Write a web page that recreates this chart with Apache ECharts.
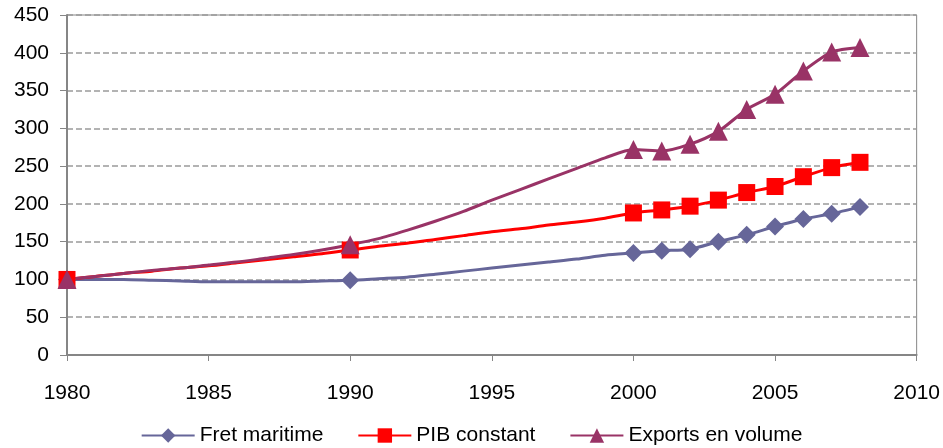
<!DOCTYPE html>
<html>
<head>
<meta charset="utf-8">
<script src="https://cdn.jsdelivr.net/npm/echarts@6/dist/echarts.min.js"></script>
<style>
html, body { margin: 0; padding: 0; background: #fff; }
#chart { width: 943px; height: 448px; }
</style>
</head>
<body>
<div id="chart"></div>
<script>
// années et séries (indices base 100 en 1980)
var years = [1980, 1981, 1982, 1983, 1984, 1985, 1986, 1987, 1988, 1989,
             1990, 1991, 1992, 1993, 1994, 1995, 1996, 1997, 1998, 1999,
             2000, 2001, 2002, 2003, 2004, 2005, 2006, 2007, 2008];
var fret = [100, 100, 100, 99, 98, 97, 97, 97, 97, 98,
            99, 101, 103, 107, 111, 115, 119, 123, 127, 132,
            135, 138, 140, 150, 159, 170, 180, 187, 196];
var pib = [100, 104, 108, 111, 115, 118, 122, 126, 130, 134,
           139, 144, 148, 153, 158, 163, 167, 172, 176, 181,
           188, 192, 197, 205, 215, 223, 236, 248, 255];
var exports = [100, 104, 108, 112, 115, 119, 123, 128, 133, 139,
               146, 154, 165, 177, 190, 205, 219, 233, 247, 261,
               272, 270, 279, 296, 325, 345, 376, 401, 407];
// années avec marqueur
var markedYears = [1980, 1990, 2000, 2001, 2002, 2003, 2004, 2005, 2006, 2007, 2008];
var xTicks = [1980, 2010, 5];
var yTicks = [0, 450, 50];

var myChart = echarts.init(document.getElementById('chart'));

function buildData(values) {
    return years.map(function (y, i) {
        var item = { value: [y, values[i]] };
        if (markedYears.indexOf(y) < 0) item.symbol = 'none';
        return item;
    });
}

var font = 'Liberation Sans, Arial, sans-serif';
var axisGray = '#868686';

function lineSeries(name, values, color, symbol, size) {
    return {
        name: name,
        type: 'line',
        data: buildData(values),
        smooth: 0.25,
        symbol: symbol,
        symbolSize: size,
        showAllSymbol: true,
        lineStyle: { color: color, width: 3 },
        itemStyle: { color: color },
        emphasis: { disabled: true }
    };
}

var option = {
    animation: false,
    grid: {
        left: 67, right: 24, top: 15, bottom: 93,
        show: true, borderColor: axisGray, borderWidth: 1
    },
    legend: {
        top: 420,
        left: 'center',
        itemWidth: 53,
        itemHeight: 18,
        itemGap: 34,
        textStyle: { fontFamily: font, fontSize: 21, color: '#000' },
        data: ['Fret maritime', 'PIB constant', 'Exports en volume']
    },
    xAxis: {
        type: 'value',
        min: xTicks[0], max: xTicks[1], interval: xTicks[2],
        axisLine: { lineStyle: { color: axisGray, width: 2 } },
        axisTick: { show: true, length: 6, lineStyle: { color: axisGray } },
        splitLine: { show: false },
        axisLabel: {
            fontFamily: font, fontSize: 21, color: '#000', margin: 28,
            formatter: function (v) { return String(v); }
        }
    },
    yAxis: {
        type: 'value',
        min: yTicks[0], max: yTicks[1], interval: yTicks[2],
        axisLine: { show: true, lineStyle: { color: axisGray, width: 2 } },
        axisTick: { show: true, length: 7, lineStyle: { color: axisGray } },
        splitLine: {
            lineStyle: { color: '#9a9a9a', width: 1.5, type: 'dashed' }
        },
        axisLabel: { fontFamily: font, fontSize: 21, color: '#000', margin: 18 }
    },
    series: [
        lineSeries('Fret maritime', fret, '#666699', 'diamond', 18),
        lineSeries('PIB constant', pib, '#ff0000', 'rect', 17),
        lineSeries('Exports en volume', exports, '#993366', 'triangle', 19)
    ]
};

myChart.setOption(option);
</script>
</body>
</html>
